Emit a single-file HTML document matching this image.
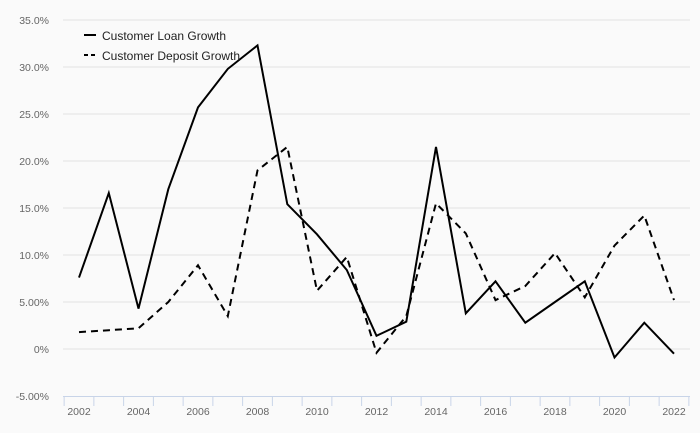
<!DOCTYPE html>
<html><head><meta charset="utf-8"><style>
html,body{margin:0;padding:0;background:#fafafa;}
svg{display:block;font-family:"Liberation Sans",sans-serif;}
</style></head><body>
<svg id="chart" width="700" height="433" viewBox="0 0 700 433">
<rect width="700" height="433" fill="#fafafa"/>
<g id="grid"></g><g id="yt"></g><g id="xa"></g><g id="series"></g>
<g>
<line x1="84" y1="35" x2="96" y2="35" stroke="#000" stroke-width="2"/>
<text x="102" y="40" font-size="12" fill="#222">Customer Loan Growth</text>
<line x1="84" y1="55" x2="96" y2="55" stroke="#000" stroke-width="2" stroke-dasharray="4,3"/>
<text x="102" y="60" font-size="12" fill="#222">Customer Deposit Growth</text>
</g>
</svg>
<script>
const years=[2002,2003,2004,2005,2006,2007,2008,2009,2010,2011,2012,2013,2014,2015,2016,2017,2018,2019,2020,2021,2022];
const loanGrowth=[7.6,16.6,4.3,17.0,25.7,29.8,32.3,15.4,12.2,8.4,1.4,2.9,21.5,3.8,7.2,2.8,5.0,7.2,-0.9,2.8,-0.5];
const depositGrowth=[1.8,2.0,2.2,5.0,8.9,3.5,19.0,21.5,6.2,9.8,-0.4,3.5,15.5,12.3,5.2,6.7,10.2,5.5,11.0,14.2,5.2];
const yTicks=[-5,0,5,10,15,20,25,30,35];
const yTickLabels=["-5.00%","0%","5.00%","10.0%","15.0%","20.0%","25.0%","30.0%","35.0%"];
const NS="http://www.w3.org/2000/svg";
const x=i=>79+i*(674-79)/(years.length-1);
const y=v=>349-v*47/5;
function mk(t,a,p){const e=document.createElementNS(NS,t);for(const k in a)e.setAttribute(k,a[k]);p.appendChild(e);return e;}
const grid=document.getElementById('grid'),yt=document.getElementById('yt'),xa=document.getElementById('xa'),ser=document.getElementById('series');
yTicks.forEach((v,i)=>{
 if(v>-5){const l=mk('line',{x1:63,x2:690,y1:y(v),y2:y(v),stroke:'#e2e2e2','stroke-width':1},grid);
 
 }
 const t=mk('text',{x:49,y:y(v)+4,'text-anchor':'end','font-size':10.5,fill:'#666'},yt);
 t.textContent=yTickLabels[i];
 
 
});
const ax=mk('line',{x1:63,x2:690,y1:396.5,y2:396.5,stroke:'#c8d4e8','stroke-width':1},xa);


for(let i=0;i<=years.length;i++){const tx=x(i)-14.875;
 const tk=mk('line',{x1:tx,x2:tx,y1:396,y2:406,stroke:'#c8d4e8','stroke-width':1},xa);
 
 }
years.forEach((yr,i)=>{if(i%2)return;
 const t=mk('text',{x:x(i),y:415,'text-anchor':'middle','font-size':10.5,fill:'#666'},xa);
 t.textContent=yr;
 
 });
function line(vals,dash,name){const d=vals.map((v,i)=>(i?'L':'M')+x(i).toFixed(1)+','+y(v).toFixed(1)).join('');
 const p=mk('path',{d:d,fill:'none',stroke:'#000','stroke-width':2,'stroke-dasharray':dash},ser);
 
 }
line(depositGrowth,'7,5','deposit-growth-line');
line(loanGrowth,'none','loan-growth-line');
</script>
</body></html>
